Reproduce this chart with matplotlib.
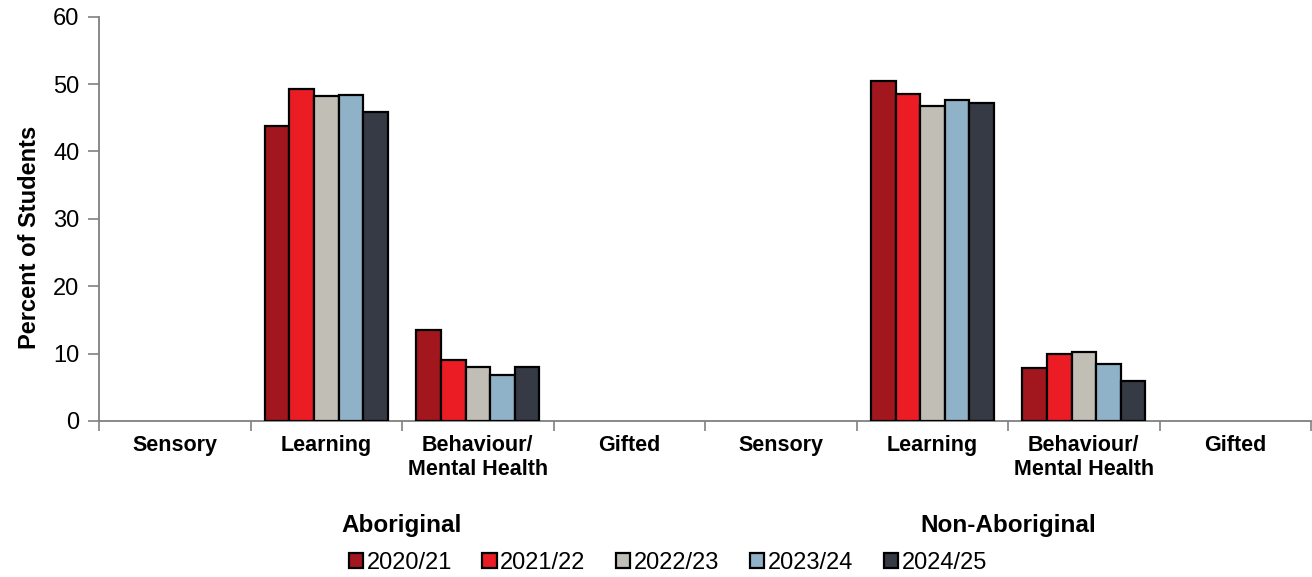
import matplotlib.pyplot as plt
import numpy as np

plt.rcParams['font.family'] = ['Liberation Sans', 'DejaVu Sans']

categories = ['Sensory', 'Learning', 'Behaviour/\nMental Health', 'Gifted',
              'Sensory', 'Learning', 'Behaviour/\nMental Health', 'Gifted']
groups = ['Aboriginal', 'Non-Aboriginal']
years = ['2020/21', '2021/22', '2022/23', '2023/24', '2024/25']
nan = np.nan
values = {
    '2020/21': [nan, 43.8, 13.5, nan, nan, 50.5, 7.8, nan],
    '2021/22': [nan, 49.2, 9.1, nan, nan, 48.5, 10.0, nan],
    '2022/23': [nan, 48.3, 8.0, nan, nan, 46.7, 10.2, nan],
    '2023/24': [nan, 48.4, 6.8, nan, nan, 47.6, 8.4, nan],
    '2024/25': [nan, 45.9, 8.0, nan, nan, 47.2, 6.0, nan],
}
colors = ['#A2171E', '#EC1C24', '#C1BEB6', '#8FB2C9', '#353A45']

fig = plt.figure(figsize=(13.12, 5.77), dpi=100)
ax = fig.add_axes([0.0755, 0.2704, 0.9238, 0.7007])

x = np.arange(len(categories))
w = 0.162
for i, (yr, c) in enumerate(zip(years, colors)):
    ax.bar(x + (i - 2) * w, values[yr], width=w, color=c,
           edgecolor='black', linewidth=1.6, label=yr, zorder=3)

ax.set_xlim(-0.5, len(categories) - 0.5)
ax.set_ylim(0, 60)
ax.set_yticks(range(0, 61, 10))
ax.tick_params(axis='y', labelsize=17, length=8, color='#808080', width=1.2, pad=6)

ax.set_xticks(np.arange(-0.5, len(categories) + 0.5, 1))
ax.set_xticklabels([])
ax.set_xticks(x, minor=True)
ax.set_xticklabels(categories, minor=True, fontsize=15.5, fontweight='bold',
                   linespacing=1.2)
ax.tick_params(axis='x', which='major', length=7, color='#808080', width=1.2)
ax.tick_params(axis='x', which='minor', length=0, pad=10)

for s in ['top', 'right']:
    ax.spines[s].set_visible(False)
for s in ['left', 'bottom']:
    ax.spines[s].set_color('#808080')
    ax.spines[s].set_linewidth(1.3)

ax.set_ylabel('Percent of Students', fontsize=17, fontweight='bold',
              labelpad=9, y=0.455)

for gx, g in zip([1.5, 5.5], groups):
    ax.text(gx, -0.259, g, transform=ax.get_xaxis_transform(), ha='center',
            va='center', fontsize=17.5, fontweight='bold')

fig.legend(*ax.get_legend_handles_labels(), loc='center',
           bbox_to_anchor=(0.509, 1 - 563 / 577), ncol=5, frameon=False,
           fontsize=17, handlelength=0.6, handleheight=0.6, handletextpad=0.15,
           columnspacing=1.3, borderaxespad=0, borderpad=0)

fig.savefig('out.png', dpi=100)
